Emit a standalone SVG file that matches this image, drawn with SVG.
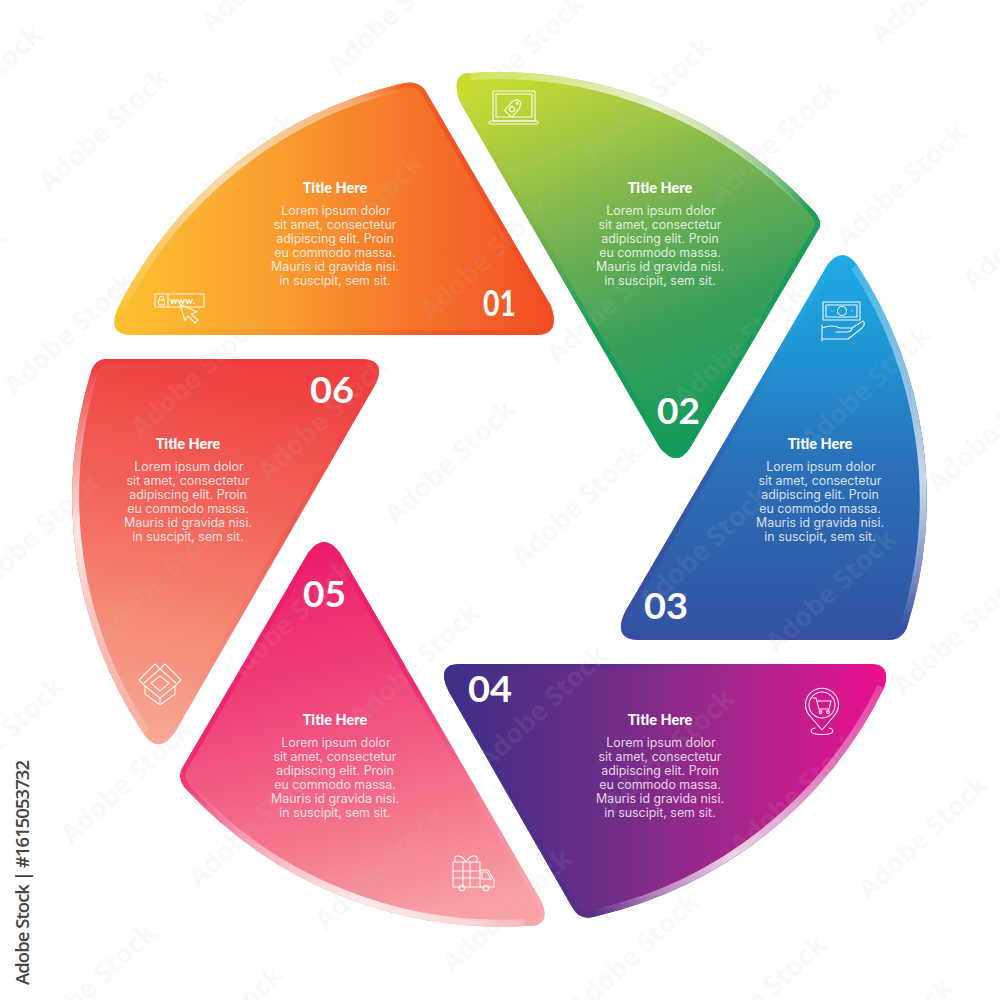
<svg xmlns="http://www.w3.org/2000/svg" xmlns:xlink="http://www.w3.org/1999/xlink" width="1000" height="1000" viewBox="0 0 1000 1000">
<style>
.body{font-family:"Inter","Open Sans","Liberation Sans",sans-serif;font-size:12.4px;fill:#fff;fill-opacity:.82;text-anchor:middle}
.title{font-family:"Lato","Noto Sans",sans-serif;font-weight:900;font-size:14.5px;fill:#fff;text-anchor:middle}
.num{font-family:"Lato","Noto Sans",sans-serif;font-weight:700;font-size:36px;fill:#fff}
.ic{fill:none;stroke:#fff;stroke-width:1.1;stroke-linejoin:round;stroke-linecap:round;stroke-opacity:.92}
.rim{fill:none;stroke-width:10;stroke-opacity:.8}
.arc{fill:none;stroke-width:14}
.wm{font-family:"Open Sans","Liberation Sans",sans-serif;font-weight:700;font-size:27px;fill:#c4c4c4;fill-opacity:.1;text-anchor:middle}
.side{font-family:"Open Sans","Liberation Sans",sans-serif;font-weight:600;font-size:18.5px;fill:#444}
</style>
<defs>
<path id="p1" d="M118,308A427,427 0 0 1 400,84Q417,79 425,90L551,306Q561,335 536,335L132,335Q106,335 118,308Z"/>
<path id="p2" d="M470,73A428,428 0 0 1 810,207Q826,222 817,232L690,448Q677,468 660,448L460,102Q450,73 470,73Z"/>
<path id="p3" d="M857,265A427,427 0 0 1 907,627Q902,640 888,640L640,640Q612,640 625,612L828,264Q843,246 857,265Z"/>
<path id="p4" d="M460,664L870,664Q892,664 884,688A427,427 0 0 1 597,916Q580,922 572,907L449,692Q435,664 460,664Z"/>
<path id="p5" d="M187,790A427,427 0 0 0 525,926Q553,927 541,901L340,553Q324,531 308,553L184,765Q175,778 187,790Z"/>
<path id="p6" d="M91,372Q95,359 107,359L360,359Q388,359 375,385L175,732Q159,756 143,733A427,427 0 0 1 91,372Z"/>
<clipPath id="c1"><use href="#p1"/></clipPath>
<clipPath id="c2"><use href="#p2"/></clipPath>
<clipPath id="c3"><use href="#p3"/></clipPath>
<clipPath id="c4"><use href="#p4"/></clipPath>
<clipPath id="c5"><use href="#p5"/></clipPath>
<clipPath id="c6"><use href="#p6"/></clipPath>

<linearGradient id="m1" gradientUnits="userSpaceOnUse" x1="115" y1="0" x2="553" y2="0"><stop offset="0" stop-color="#fdc130"/><stop offset=".35" stop-color="#faa02e"/><stop offset=".6" stop-color="#f67f2c"/><stop offset="1" stop-color="#f34c25"/></linearGradient>
<linearGradient id="r1" gradientUnits="userSpaceOnUse" x1="115" y1="0" x2="553" y2="0"><stop offset="0" stop-color="#fdc12c"/><stop offset=".45" stop-color="#f88a2a"/><stop offset=".75" stop-color="#f04f24"/><stop offset="1" stop-color="#f04a23"/></linearGradient>
<linearGradient id="a1" gradientUnits="userSpaceOnUse" x1="118" y1="308" x2="400" y2="84"><stop offset="0" stop-color="#fff" stop-opacity=".05"/><stop offset=".45" stop-color="#fff" stop-opacity=".6"/><stop offset=".85" stop-color="#fff" stop-opacity=".38"/><stop offset="1" stop-color="#fff" stop-opacity="0"/></linearGradient>

<linearGradient id="m2" gradientUnits="userSpaceOnUse" x1="500" y1="75" x2="660" y2="460"><stop offset="0" stop-color="#c8dc2d"/><stop offset=".2" stop-color="#a5c943"/><stop offset=".45" stop-color="#70b052"/><stop offset=".7" stop-color="#3aa05a"/><stop offset="1" stop-color="#129a5a"/></linearGradient>
<linearGradient id="r2" gradientUnits="userSpaceOnUse" x1="480" y1="90" x2="640" y2="400"><stop offset="0" stop-color="#c8dc2d"/><stop offset=".4" stop-color="#7fb44a"/><stop offset=".75" stop-color="#129c5a"/><stop offset="1" stop-color="#119b5a"/></linearGradient>
<linearGradient id="a2" gradientUnits="userSpaceOnUse" x1="470" y1="73" x2="810" y2="207"><stop offset="0" stop-color="#fff" stop-opacity=".2"/><stop offset=".5" stop-color="#fff" stop-opacity=".75"/><stop offset=".85" stop-color="#fff" stop-opacity=".38"/><stop offset="1" stop-color="#fff" stop-opacity="0"/></linearGradient>

<linearGradient id="m3" gradientUnits="userSpaceOnUse" x1="0" y1="255" x2="0" y2="640"><stop offset="0" stop-color="#1eaae5"/><stop offset=".25" stop-color="#2095d4"/><stop offset=".55" stop-color="#2a70b8"/><stop offset="1" stop-color="#3352a2"/></linearGradient>
<linearGradient id="r3" gradientUnits="userSpaceOnUse" x1="0" y1="300" x2="0" y2="560"><stop offset="0" stop-color="#1eaae5"/><stop offset=".6" stop-color="#3160ae"/><stop offset="1" stop-color="#3b4ca2"/></linearGradient>
<linearGradient id="a3" gradientUnits="userSpaceOnUse" x1="0" y1="265" x2="0" y2="627"><stop offset="0" stop-color="#fff" stop-opacity=".15"/><stop offset=".2" stop-color="#fff" stop-opacity=".38"/><stop offset=".6" stop-color="#fff" stop-opacity=".75"/><stop offset=".88" stop-color="#fff" stop-opacity=".3"/><stop offset="1" stop-color="#fff" stop-opacity="0"/></linearGradient>

<linearGradient id="m4" gradientUnits="userSpaceOnUse" x1="447" y1="0" x2="885" y2="0"><stop offset="0" stop-color="#3e2f87"/><stop offset=".35" stop-color="#6b2d88"/><stop offset=".65" stop-color="#a5278b"/><stop offset="1" stop-color="#ea0f8e"/></linearGradient>
<linearGradient id="r4" gradientUnits="userSpaceOnUse" x1="447" y1="0" x2="885" y2="0"><stop offset="0" stop-color="#3d2f8c"/><stop offset=".4" stop-color="#5f2d88"/><stop offset=".7" stop-color="#a9278c"/><stop offset="1" stop-color="#ee0f8e"/></linearGradient>
<linearGradient id="a4" gradientUnits="userSpaceOnUse" x1="884" y1="688" x2="597" y2="916"><stop offset="0" stop-color="#fff" stop-opacity=".2"/><stop offset=".25" stop-color="#fff" stop-opacity=".4"/><stop offset=".6" stop-color="#fff" stop-opacity=".8"/><stop offset=".85" stop-color="#fff" stop-opacity=".4"/><stop offset="1" stop-color="#fff" stop-opacity="0"/></linearGradient>

<linearGradient id="m5" gradientUnits="userSpaceOnUse" x1="300" y1="542" x2="400" y2="925"><stop offset="0" stop-color="#ec1a6c"/><stop offset=".4" stop-color="#f0467a"/><stop offset=".7" stop-color="#f4718a"/><stop offset="1" stop-color="#f8a0a5"/></linearGradient>
<linearGradient id="r5" gradientUnits="userSpaceOnUse" x1="300" y1="560" x2="420" y2="920"><stop offset="0" stop-color="#ec1a6c"/><stop offset=".4" stop-color="#ec2270"/><stop offset=".7" stop-color="#f4768c"/><stop offset="1" stop-color="#f9a8ac"/></linearGradient>
<linearGradient id="a5" gradientUnits="userSpaceOnUse" x1="187" y1="790" x2="525" y2="926"><stop offset="0" stop-color="#fff" stop-opacity="0"/><stop offset=".2" stop-color="#fff" stop-opacity=".35"/><stop offset=".55" stop-color="#fff" stop-opacity=".8"/><stop offset=".85" stop-color="#fff" stop-opacity=".55"/><stop offset="1" stop-color="#fff" stop-opacity=".2"/></linearGradient>

<linearGradient id="m6" gradientUnits="userSpaceOnUse" x1="240" y1="360" x2="170" y2="745"><stop offset="0" stop-color="#ef3e40"/><stop offset=".4" stop-color="#f2665c"/><stop offset=".7" stop-color="#f58a75"/><stop offset="1" stop-color="#f8a796"/></linearGradient>
<linearGradient id="r6" gradientUnits="userSpaceOnUse" x1="0" y1="360" x2="0" y2="745"><stop offset="0" stop-color="#ef3a3e"/><stop offset=".45" stop-color="#f05a52"/><stop offset="1" stop-color="#f9ab98"/></linearGradient>
<linearGradient id="a6" gradientUnits="userSpaceOnUse" x1="0" y1="372" x2="0" y2="733"><stop offset="0" stop-color="#fff" stop-opacity=".05"/><stop offset=".2" stop-color="#fff" stop-opacity=".4"/><stop offset=".45" stop-color="#fff" stop-opacity=".85"/><stop offset=".75" stop-color="#fff" stop-opacity=".45"/><stop offset="1" stop-color="#fff" stop-opacity=".15"/></linearGradient>

<text id="w" class="wm" x="0" y="9">Adobe Stock</text>
</defs>

<rect width="1000" height="1000" fill="#fff"/>

<g id="connectors"/>

<g id="node-01">
<use href="#p1" fill="url(#m1)"/>
<g clip-path="url(#c1)"><use href="#p1" class="rim" stroke="url(#r1)"/><path class="arc" stroke="url(#a1)" d="M118,308A427,427 0 0 1 400,84"/></g>
<text class="title" x="335" y="193">Title Here</text>
<text class="body" y="215"><tspan x="336">Lorem ipsum dolor</tspan><tspan x="335" dy="13.9">sit amet, consectetur</tspan><tspan x="335" dy="13.9">adipiscing elit. Proin</tspan><tspan x="335" dy="13.9">eu commodo massa.</tspan><tspan x="335" dy="13.9">Mauris id gravida nisi.</tspan><tspan x="335" dy="13.9">in suscipit, sem sit.</tspan></text>
<text class="num" x="483" y="316" textLength="33" lengthAdjust="spacingAndGlyphs">01</text>
<g class="ic"><rect x="155" y="294" width="49" height="13"/><path d="M168,294V307"/><rect x="158.500" y="300" width="6" height="5" rx="1"/><path d="M159.500,300V298.500A2,2 0 0 1 163.500,298.500V300"/><path d="M180,304L197,312L191,314L198,320L195,323L188,316L185,321Z"/></g>
<text x="170" y="304" font-family="Lato,sans-serif" font-size="9.500" font-weight="700" fill="#fff">www.</text>
</g>

<g id="node-02">
<use href="#p2" fill="url(#m2)"/>
<g clip-path="url(#c2)"><use href="#p2" class="rim" stroke="url(#r2)"/><path class="arc" stroke="url(#a2)" d="M470,73A428,428 0 0 1 810,207"/></g>
<text class="title" x="660" y="193">Title Here</text>
<text class="body" y="215"><tspan x="661">Lorem ipsum dolor</tspan><tspan x="660" dy="13.9">sit amet, consectetur</tspan><tspan x="660" dy="13.9">adipiscing elit. Proin</tspan><tspan x="660" dy="13.9">eu commodo massa.</tspan><tspan x="660" dy="13.9">Mauris id gravida nisi.</tspan><tspan x="660" dy="13.9">in suscipit, sem sit.</tspan></text>
<text class="num" x="657" y="424" textLength="43" lengthAdjust="spacingAndGlyphs">02</text>
<g class="ic"><rect x="493" y="91" width="42" height="30"/><rect x="496" y="94" width="36" height="23"/><rect x="489" y="121" width="49" height="3" rx="1.500"/><g transform="translate(514,107) rotate(40)"><path d="M-5,-3L-2,-8H2L5,-3V9H-5Z"/><circle cx="0" cy="3" r="2.500"/><circle cx="0" cy="-5" r="1"/></g></g>
</g>

<g id="node-03">
<use href="#p3" fill="url(#m3)"/>
<g clip-path="url(#c3)"><use href="#p3" class="rim" stroke="url(#r3)"/><path class="arc" stroke="url(#a3)" d="M857,265A427,427 0 0 1 907,627"/></g>
<text class="title" x="820" y="449">Title Here</text>
<text class="body" y="471"><tspan x="821">Lorem ipsum dolor</tspan><tspan x="820" dy="13.9">sit amet, consectetur</tspan><tspan x="820" dy="13.9">adipiscing elit. Proin</tspan><tspan x="820" dy="13.9">eu commodo massa.</tspan><tspan x="820" dy="13.9">Mauris id gravida nisi.</tspan><tspan x="820" dy="13.9">in suscipit, sem sit.</tspan></text>
<text class="num" x="644" y="619" textLength="44" lengthAdjust="spacingAndGlyphs">03</text>
<g class="ic"><rect x="823" y="302" width="37" height="18"/><path d="M826,305H857V317H826Z"/><circle cx="842" cy="311" r="4.500"/><path d="M832,311h.1M852,311h.1"/><path d="M822,325V341M822,328Q832,324 840,328H852L863,321Q866,324 862,328L848,339H822M852,328Q852,332 846,332H836"/></g>
</g>

<g id="node-04">
<use href="#p4" fill="url(#m4)"/>
<g clip-path="url(#c4)"><use href="#p4" class="rim" stroke="url(#r4)"/><path class="arc" stroke="url(#a4)" d="M884,688A427,427 0 0 1 597,916"/></g>
<text class="title" x="660" y="725">Title Here</text>
<text class="body" y="747"><tspan x="661">Lorem ipsum dolor</tspan><tspan x="660" dy="13.9">sit amet, consectetur</tspan><tspan x="660" dy="13.9">adipiscing elit. Proin</tspan><tspan x="660" dy="13.9">eu commodo massa.</tspan><tspan x="660" dy="13.9">Mauris id gravida nisi.</tspan><tspan x="660" dy="13.9">in suscipit, sem sit.</tspan></text>
<text class="num" x="468" y="702" textLength="44" lengthAdjust="spacingAndGlyphs">04</text>
<g class="ic"><path d="M822,730L810,716A16.500,16.500 0 1 1 834,716Z"/><circle cx="822" cy="705" r="13"/><path d="M813,698h3l3,11h10l2,-8h-14"/><circle cx="820.500" cy="712" r="1.400"/><circle cx="828" cy="712" r="1.400"/><path d="M815,728Q811,729 811,731Q811,734.500 822,734.500Q833,734.500 833,731Q833,729 829,728"/></g>
</g>

<g id="node-05">
<use href="#p5" fill="url(#m5)"/>
<g clip-path="url(#c5)"><use href="#p5" class="rim" stroke="url(#r5)"/><path class="arc" stroke="url(#a5)" d="M187,790A427,427 0 0 0 525,926"/></g>
<text class="title" x="335" y="725">Title Here</text>
<text class="body" y="747"><tspan x="336">Lorem ipsum dolor</tspan><tspan x="335" dy="13.9">sit amet, consectetur</tspan><tspan x="335" dy="13.9">adipiscing elit. Proin</tspan><tspan x="335" dy="13.9">eu commodo massa.</tspan><tspan x="335" dy="13.9">Mauris id gravida nisi.</tspan><tspan x="335" dy="13.9">in suscipit, sem sit.</tspan></text>
<text class="num" x="303" y="607" textLength="43" lengthAdjust="spacingAndGlyphs">05</text>
<g class="ic"><rect x="453" y="862" width="27" height="25"/><path d="M453,871H480M453,878H480M463,862V887M470,862V887"/><path d="M466,862C460,852 451,856 456,862M466,862C472,852 481,856 476,862"/><path d="M480,870H488L494,880V887H480"/><path d="M482,872H487L491,879H482Z"/><circle cx="462" cy="888" r="2.800"/><circle cx="486" cy="888" r="2.800"/></g>
</g>

<g id="node-06">
<use href="#p6" fill="url(#m6)"/>
<g clip-path="url(#c6)"><use href="#p6" class="rim" stroke="url(#r6)"/><path class="arc" stroke="url(#a6)" d="M143,733A427,427 0 0 1 91,372"/></g>
<text class="title" x="188" y="449">Title Here</text>
<text class="body" y="471"><tspan x="189">Lorem ipsum dolor</tspan><tspan x="188" dy="13.9">sit amet, consectetur</tspan><tspan x="188" dy="13.9">adipiscing elit. Proin</tspan><tspan x="188" dy="13.9">eu commodo massa.</tspan><tspan x="188" dy="13.9">Mauris id gravida nisi.</tspan><tspan x="188" dy="13.9">in suscipit, sem sit.</tspan></text>
<text class="num" x="310" y="403" textLength="44" lengthAdjust="spacingAndGlyphs">06</text>
<g class="ic"><path d="M160,669L155,664L139,680L145,686L160,698L175,686L181,680L165,664L160,669"/><path d="M160,669L176,683M160,669L144,683"/><path d="M160,676L169,683L160,691L151,683Z"/><path d="M145,686V694L160,705L175,694V686M160,698V705"/></g>
</g>

<g id="watermark">
<use href="#w" transform="translate(774,142) rotate(-43)"/><use href="#w" transform="translate(901,185) rotate(-43)"/><use href="#w" transform="translate(1028,228) rotate(-43)"/><use href="#w" transform="translate(647,99) rotate(-43)"/><use href="#w" transform="translate(520,56) rotate(-43)"/><use href="#w" transform="translate(393,13) rotate(-43)"/><use href="#w" transform="translate(266,-30) rotate(-43)"/>
<use href="#w" transform="translate(739,345) rotate(-43)"/><use href="#w" transform="translate(866,388) rotate(-43)"/><use href="#w" transform="translate(993,431) rotate(-43)"/><use href="#w" transform="translate(612,302) rotate(-43)"/><use href="#w" transform="translate(485,259) rotate(-43)"/><use href="#w" transform="translate(358,216) rotate(-43)"/><use href="#w" transform="translate(231,173) rotate(-43)"/><use href="#w" transform="translate(104,130) rotate(-43)"/><use href="#w" transform="translate(-23,87) rotate(-43)"/>
<use href="#w" transform="translate(704,548) rotate(-43)"/><use href="#w" transform="translate(831,591) rotate(-43)"/><use href="#w" transform="translate(958,634) rotate(-43)"/><use href="#w" transform="translate(577,505) rotate(-43)"/><use href="#w" transform="translate(450,462) rotate(-43)"/><use href="#w" transform="translate(323,419) rotate(-43)"/><use href="#w" transform="translate(196,376) rotate(-43)"/><use href="#w" transform="translate(69,333) rotate(-43)"/><use href="#w" transform="translate(-58,290) rotate(-43)"/>
<use href="#w" transform="translate(669,751) rotate(-43)"/><use href="#w" transform="translate(796,794) rotate(-43)"/><use href="#w" transform="translate(923,837) rotate(-43)"/><use href="#w" transform="translate(542,708) rotate(-43)"/><use href="#w" transform="translate(415,665) rotate(-43)"/><use href="#w" transform="translate(288,622) rotate(-43)"/><use href="#w" transform="translate(161,579) rotate(-43)"/><use href="#w" transform="translate(34,536) rotate(-43)"/>
<use href="#w" transform="translate(634,954) rotate(-43)"/><use href="#w" transform="translate(761,997) rotate(-43)"/><use href="#w" transform="translate(888,1040) rotate(-43)"/><use href="#w" transform="translate(507,911) rotate(-43)"/><use href="#w" transform="translate(380,868) rotate(-43)"/><use href="#w" transform="translate(253,825) rotate(-43)"/><use href="#w" transform="translate(126,782) rotate(-43)"/><use href="#w" transform="translate(-1,739) rotate(-43)"/>
<use href="#w" transform="translate(91,985) rotate(-43)"/><use href="#w" transform="translate(218,1028) rotate(-43)"/><use href="#w" transform="translate(936,-18) rotate(-43)"/>
</g>

<text class="side" transform="translate(29,985) rotate(-90)" textLength="225">Adobe Stock | #1615053732</text>
</svg>
